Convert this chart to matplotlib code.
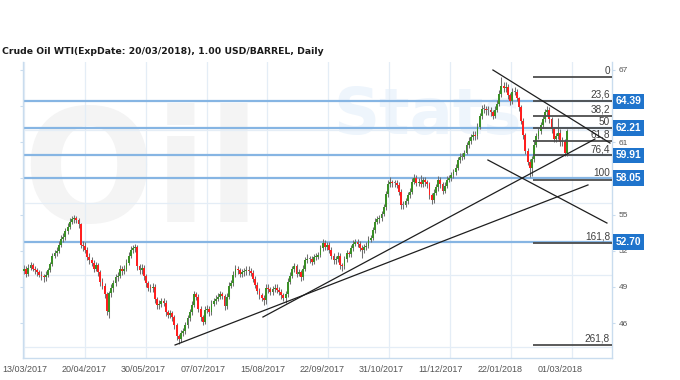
import matplotlib
matplotlib.use("Agg")
import matplotlib.pyplot as plt
from matplotlib.transforms import blended_transform_factory
import numpy as np

# ---------------- data ----------------
title = "Crude Oil WTI(ExpDate: 20/03/2018), 1.00 USD/BARREL, Daily"

closes = [
    50.5, 50.1, 50.6, 50.8, 50.5, 50.4, 50.2, 50.0, 49.9, 49.8,
    50.0, 50.4, 50.9, 51.6, 51.8, 52.0, 52.5, 53.0, 53.1, 53.6,
    54.0, 54.4, 54.6, 54.7, 54.55, 54.2, 52.5, 52.4, 52.1, 51.5,
    51.2, 51.0, 50.5, 50.8, 50.2, 49.4, 49.1, 48.4, 47.0, 48.5,
    48.9, 49.3, 49.8, 49.9, 50.5, 50.3, 50.5, 51.0, 51.6, 52.1,
    52.2, 52.3, 50.7, 50.4, 50.6, 49.9, 49.3, 48.95, 48.9, 49.0,
    48.0, 47.5, 47.6, 47.8, 47.7, 46.9, 46.7, 46.8, 46.5, 45.8,
    44.9, 44.7, 45.15, 45.35, 45.8, 46.4, 46.9, 47.5, 48.4, 48.2,
    47.2, 46.5, 46.1, 47.1, 47.2, 46.9, 47.6, 47.85, 48.0, 48.2,
    48.4, 48.25, 47.4, 48.2, 49.1, 49.3, 50.0, 50.45, 50.4, 50.1,
    50.2, 50.3, 50.4, 50.35, 50.15, 49.65, 49.15, 48.7, 48.3, 48.1,
    47.9, 48.9, 48.8, 48.55, 48.85, 48.95, 48.75, 48.55, 48.3, 48.1,
    48.4, 49.4, 49.9, 50.45, 50.7, 50.1, 50.2, 49.8, 50.5, 51.2,
    51.35, 51.35, 51.1, 51.45, 51.5, 51.65, 52.2, 52.65, 52.35, 52.45,
    52.1, 51.6, 51.2, 51.3, 51.6, 50.8, 50.7, 51.3, 51.8, 51.75,
    52.2, 52.6, 52.75, 52.55, 52.25, 52.05, 52.3, 52.4, 52.9, 53.05,
    53.7, 54.4, 54.6, 54.75, 55.05, 55.6, 56.7, 57.55, 57.7, 57.6,
    57.6, 57.45, 56.9, 55.8, 55.8, 56.1, 56.6, 56.9, 57.7, 58.05,
    57.65, 57.7, 57.55, 57.85, 57.7, 57.5, 56.6, 56.2, 56.8, 57.25,
    57.85, 57.5, 57.0, 57.4, 57.9, 58.05, 58.25, 58.55, 58.9, 59.5,
    59.8, 59.8, 60.15, 60.75, 61.1, 61.4, 61.6, 61.5, 62.3, 63.15,
    63.8, 63.8, 63.7, 63.7, 63.5, 63.2, 63.7, 64.2, 65.0, 65.7,
    65.5, 65.6, 64.9, 64.4, 65.2, 65.2, 64.65, 63.9, 62.8, 61.6,
    60.3, 59.4, 58.9, 59.6, 60.8, 61.5, 61.9, 62.4, 62.9, 63.55,
    63.7, 62.9, 62.1, 61.25, 61.5, 61.8, 61.0, 61.1, 60.1, 61.9,
]

opens = [
    50.3, 50.5, 50.1, 50.6, 50.8, 50.5, 50.4, 50.2, 50.0, 49.9,
    49.8, 50.0, 50.4, 50.9, 51.6, 51.8, 52.0, 52.5, 53.0, 53.1,
    53.6, 54.0, 54.4, 54.6, 54.7, 54.55, 54.2, 52.5, 52.4, 52.1,
    51.5, 51.2, 51.0, 50.5, 50.8, 50.2, 49.4, 49.1, 48.4, 46.9,
    48.5, 48.9, 49.3, 49.8, 49.9, 50.5, 50.3, 50.5, 51.0, 51.6,
    52.1, 52.2, 52.3, 50.7, 50.4, 50.6, 49.9, 49.3, 48.95, 48.9,
    49.0, 48.0, 47.5, 47.6, 47.8, 47.7, 46.9, 46.7, 46.8, 46.5,
    45.8, 44.9, 44.7, 45.15, 45.35, 45.8, 46.4, 46.9, 47.5, 48.4,
    48.2, 47.2, 46.5, 46.1, 47.1, 47.2, 46.9, 47.6, 47.85, 48.0,
    48.2, 48.4, 48.25, 47.4, 48.2, 49.1, 49.3, 50.0, 50.45, 50.4,
    50.1, 50.2, 50.3, 50.4, 50.35, 50.15, 49.65, 49.15, 48.7, 48.3,
    48.1, 47.9, 48.9, 48.8, 48.55, 48.85, 48.95, 48.75, 48.55, 48.3,
    48.1, 48.4, 49.4, 49.9, 50.45, 50.7, 50.1, 50.2, 49.8, 50.5,
    51.2, 51.35, 51.35, 51.1, 51.45, 51.5, 51.65, 52.2, 52.65, 52.35,
    52.45, 52.1, 51.6, 51.2, 51.3, 51.6, 50.8, 50.7, 51.3, 51.8,
    51.75, 52.2, 52.6, 52.75, 52.55, 52.25, 52.05, 52.3, 52.4, 52.9,
    53.05, 53.7, 54.4, 54.6, 54.75, 55.05, 55.6, 56.7, 57.55, 57.7,
    57.6, 57.6, 57.45, 56.9, 55.8, 55.8, 56.1, 56.6, 56.9, 57.7,
    58.05, 57.65, 57.7, 57.55, 57.85, 57.7, 57.5, 56.6, 56.2, 56.8,
    57.25, 57.85, 57.5, 57.0, 57.4, 57.9, 58.05, 58.25, 58.55, 58.9,
    59.5, 59.8, 59.8, 60.15, 60.75, 61.1, 61.4, 61.6, 61.5, 62.3,
    63.15, 63.8, 63.8, 63.7, 63.7, 63.5, 63.2, 63.7, 64.2, 65.0,
    65.7, 65.5, 65.6, 64.9, 64.4, 65.2, 65.2, 64.65, 63.9, 62.8,
    61.6, 60.3, 59.4, 58.9, 59.6, 60.8, 61.5, 61.9, 62.4, 62.9,
    63.55, 63.7, 62.9, 62.1, 61.25, 61.5, 61.8, 61.0, 61.1, 60.1,
]

highs = [
    50.8, 50.7, 50.9, 51.1, 51.0, 50.7, 50.6, 50.4, 50.3, 50.1,
    50.3, 50.6, 51.1, 51.8, 52.1, 52.3, 52.8, 53.3, 53.5, 53.9,
    54.3, 54.7, 54.9, 55.0, 54.9, 54.7, 54.3, 52.8, 52.7, 52.3,
    51.8, 51.5, 51.2, 51.1, 51.0, 50.4, 49.7, 49.3, 48.6, 48.7,
    49.2, 49.6, 50.1, 50.2, 50.8, 50.7, 50.8, 51.3, 51.9, 52.4,
    52.5, 52.6, 52.5, 50.9, 50.9, 50.8, 50.1, 49.5, 49.2, 49.3,
    49.2, 48.2, 47.9, 48.1, 48.1, 47.9, 47.1, 47.1, 47.0, 46.7,
    46.0, 45.1, 45.4, 45.6, 46.1, 46.7, 47.2, 47.8, 48.7, 48.6,
    48.4, 47.4, 46.7, 47.4, 47.5, 47.4, 47.9, 48.1, 48.3, 48.5,
    48.7, 48.6, 48.4, 48.5, 49.4, 49.6, 50.3, 50.8, 50.7, 50.6,
    50.5, 50.6, 50.7, 50.7, 50.6, 50.4, 49.9, 49.4, 48.9, 48.5,
    48.3, 49.2, 49.2, 49.0, 49.1, 49.2, 49.2, 49.0, 48.8, 48.5,
    48.7, 49.7, 50.2, 50.7, 51.0, 50.9, 50.5, 50.4, 50.8, 51.5,
    51.7, 51.6, 51.6, 51.7, 51.8, 51.9, 52.5, 53.0, 52.9, 52.7,
    52.7, 52.3, 51.8, 51.6, 51.9, 51.8, 51.0, 51.6, 52.1, 52.0,
    52.5, 52.9, 53.0, 53.0, 52.8, 52.5, 52.6, 52.7, 53.2, 53.3,
    54.0, 54.7, 54.9, 55.0, 55.3, 55.9, 57.0, 57.9, 58.1, 57.9,
    57.9, 57.9, 57.7, 57.1, 56.1, 56.4, 56.9, 57.2, 58.0, 58.4,
    58.3, 58.0, 58.3, 58.1, 58.1, 57.9, 57.7, 56.8, 57.1, 57.5,
    58.2, 58.1, 57.7, 57.7, 58.2, 58.3, 58.5, 58.8, 59.2, 59.8,
    60.1, 60.1, 60.4, 61.0, 61.4, 61.7, 61.9, 61.9, 62.6, 63.4,
    64.1, 64.2, 64.0, 64.0, 63.9, 63.7, 64.0, 64.5, 65.3, 66.4,
    66.0, 66.0, 65.8, 65.1, 65.5, 65.6, 65.4, 64.8, 64.1, 63.0,
    61.8, 60.5, 59.6, 59.9, 61.1, 61.8, 62.2, 62.7, 63.2, 63.8,
    64.0, 63.9, 63.1, 62.3, 61.8, 63.0, 62.1, 61.4, 61.3, 62.1,
]

lows = [
    50.1, 49.8, 49.9, 50.4, 50.3, 50.1, 49.9, 49.8, 49.6, 49.4,
    49.5, 49.8, 50.2, 50.7, 51.4, 51.6, 51.8, 52.3, 52.7, 52.9,
    53.4, 53.8, 54.2, 54.3, 54.3, 53.9, 52.2, 52.0, 51.8, 51.2,
    50.9, 50.7, 50.2, 50.3, 49.9, 49.1, 48.8, 48.1, 46.7, 46.4,
    48.2, 48.6, 49.1, 49.5, 49.7, 50.0, 50.1, 50.3, 50.8, 51.4,
    51.8, 51.9, 50.4, 50.1, 50.1, 49.6, 49.0, 48.7, 48.6, 48.6,
    47.7, 47.2, 47.2, 47.3, 47.4, 46.6, 46.4, 46.4, 46.2, 45.5,
    44.6, 44.3, 44.4, 44.9, 45.1, 45.6, 46.2, 46.7, 47.3, 47.9,
    46.9, 46.2, 45.8, 45.9, 46.8, 46.6, 46.7, 47.4, 47.6, 47.8,
    48.0, 48.0, 47.1, 47.2, 48.0, 48.9, 49.1, 49.8, 50.1, 49.8,
    49.8, 49.9, 50.0, 50.0, 49.9, 49.4, 48.9, 48.4, 48.0, 47.8,
    47.5, 47.6, 48.5, 48.3, 48.3, 48.6, 48.5, 48.3, 48.0, 47.8,
    47.7, 48.2, 49.2, 49.7, 50.2, 49.8, 49.9, 49.5, 49.6, 50.3,
    51.0, 51.0, 50.8, 50.9, 51.2, 51.3, 51.5, 52.0, 52.1, 52.1,
    51.8, 51.3, 50.9, 50.9, 51.1, 50.5, 50.3, 50.5, 51.1, 51.5,
    51.5, 52.0, 52.4, 52.3, 52.0, 51.4, 51.8, 52.1, 52.2, 52.7,
    52.9, 53.5, 54.2, 54.3, 54.5, 54.9, 55.4, 56.5, 57.3, 57.3,
    57.3, 57.2, 56.6, 55.5, 55.5, 55.6, 55.9, 56.4, 56.7, 57.5,
    57.4, 57.4, 57.3, 57.3, 57.4, 57.2, 56.3, 55.9, 56.0, 56.6,
    57.0, 57.2, 56.7, 56.8, 57.2, 57.7, 57.8, 58.0, 58.3, 58.7,
    59.3, 59.5, 59.6, 60.0, 60.5, 60.9, 61.2, 61.2, 61.3, 62.1,
    62.9, 63.4, 63.3, 63.3, 63.2, 62.9, 63.0, 63.5, 64.0, 64.8,
    65.2, 65.2, 64.6, 64.1, 64.2, 64.9, 64.4, 63.6, 62.5, 61.3,
    60.0, 59.1, 58.1, 58.2, 59.4, 60.6, 61.3, 61.7, 62.2, 62.7,
    63.3, 62.6, 61.8, 61.0, 61.0, 61.3, 60.7, 60.7, 59.9, 59.9,
]

date_labels = ["13/03/2017", "20/04/2017", "30/05/2017", "07/07/2017", "15/08/2017",
               "22/09/2017", "31/10/2017", "11/12/2017", "22/01/2018", "01/03/2018"]

# price levels shown in blue boxes on the right
marked_levels = [64.39, 62.21, 59.91, 58.05, 52.70]

# Fibonacci retracement
fib_high = 66.40
fib_low = 57.90
fib_ratios = [0.0, 23.6, 38.2, 50.0, 61.8, 76.4, 100.0, 161.8, 261.8]
fib_labels = ["0", "23,6", "38,2", "50", "61,8", "76,4", "100", "161,8", "261,8"]

# trend lines (x0 = candle index, y0 = price, x1, y1)
trend_lines = [
    (69.3, 44.18, 258.7, 57.46),
    (109.6, 46.50, 261.9, 61.27),
    (215.1, 67.00, 268.8, 60.94),
    (212.8, 59.53, 267.4, 54.30),
]

ytick_values = [46, 49, 52, 55, 58, 61, 64, 67]
ytick_texts = ["46", "49", "52", "55", "", "61", "", "67"]   # 58 and 64 sit under the boxes
hgrid_values = [44, 50, 56, 62]

# ---------------- layout helpers (pixel geometry) ----------------
W, H = 680, 380
PL, PR, PT, PB = 22.5, 612.0, 62.0, 358.0
X0, DX = 24.0, 2.18          # pixel of first candle, pixels per candle
Y67, DY = 70.0, 12.05        # pixel of price 67, pixels per 1.0 USD


def px_to_idx(px):
    return (px - X0) / DX


def py_to_price(py):
    return 67.0 - (py - Y67) / DY


label_px = [24.4 + 59.5 * k for k in range(len(date_labels))]
vgrid_px = [23.8 + 60.9 * k for k in range(len(date_labels))]

fig = plt.figure(figsize=(W / 100, H / 100), dpi=100)
fig.patch.set_facecolor("white")
ax = fig.add_axes([PL / W, 1 - PB / H, (PR - PL) / W, (PB - PT) / H])
ax.set_xlim(px_to_idx(PL), px_to_idx(PR))
ax.set_ylim(py_to_price(PB), py_to_price(PT))

# watermark (very faint)
ax.text(px_to_idx(22), py_to_price(222), "Oil", fontsize=112, fontweight="bold",
        color="#f4f4f4", family="DejaVu Sans", ha="left", va="baseline", zorder=0.2)
ax.text(px_to_idx(333), py_to_price(134), "Stats", fontsize=46, fontweight="bold",
        color="#eef5fc", family="DejaVu Sans", ha="left", va="baseline", zorder=0.2)

# grid
for p in hgrid_values:
    ax.axhline(p, color="#e4edf6", lw=0.9, zorder=0.5)
for px in vgrid_px:
    ax.axvline(px_to_idx(px), color="#e4edf6", lw=0.9, zorder=0.5)

# blue marked levels
for lv in marked_levels:
    ax.axhline(lv, color="#86b5e3", lw=1.6, zorder=1)

# candles
idx = np.arange(len(closes))
o = np.array(opens); c = np.array(closes); hi = np.array(highs); lo = np.array(lows)
ax.vlines(idx, lo, hi, color="#707070", lw=0.75, zorder=2)
colors = []
for oo, cc in zip(o, c):
    if cc > oo:
        colors.append("#3a8f26")
    elif cc < oo:
        colors.append("#ff1f1f")
    else:
        colors.append("#808080")
bottoms = np.minimum(o, c)
heights = np.maximum(np.abs(c - o), 0.08)
ax.bar(idx, heights, bottom=bottoms, width=0.85, color=colors, linewidth=0, zorder=3)

# fibonacci levels
fib_x0 = px_to_idx(533)
fib_xl = px_to_idx(610)
for r, lab in zip(fib_ratios, fib_labels):
    lv = fib_high - r / 100.0 * (fib_high - fib_low)
    ax.plot([fib_x0, px_to_idx(PR)], [lv, lv], color="#4d4d4d", lw=1.3, zorder=4,
            solid_capstyle="butt")
    ax.text(fib_xl, lv + 0.12, lab, ha="right", va="bottom", fontsize=7.2,
            family="Liberation Sans", color="#404040", zorder=5)

# trend lines
for x0, y0, x1, y1 in trend_lines:
    ax.plot([x0, x1], [y0, y1], color="#1e1e1e", lw=0.9, zorder=5)

# axes styling
ax.spines["top"].set_visible(False)
for s in ["left", "right", "bottom"]:
    ax.spines[s].set_color("#c9dcee")
    ax.spines[s].set_linewidth(1.0)

ax.set_yticks(ytick_values)
ax.set_yticklabels(ytick_texts)
ax.tick_params(axis="y", left=True, right=True, labelleft=False, labelright=True,
               length=2.5, width=0.8, color="#c9dcee", labelsize=6.0, labelcolor="#555555",
               pad=2.5)
for t in ax.get_yticklabels():
    t.set_family("Liberation Sans")

ax.set_xticks([px_to_idx(p) for p in label_px])
ax.set_xticklabels(date_labels)
ax.tick_params(axis="x", length=0, labelsize=6.5, labelcolor="#555555", pad=5)
for t in ax.get_xticklabels():
    t.set_family("Liberation Sans")

# blue price boxes
trans = blended_transform_factory(ax.transAxes, ax.transData)
for lv in marked_levels:
    ax.text((615.5 - PL) / (PR - PL), lv, f"{lv:.2f}", transform=trans, ha="left", va="center",
            fontsize=7.4, fontweight="bold", family="Liberation Sans", color="white",
            bbox=dict(boxstyle="square,pad=0.28", fc="#1f74cc", ec="none"),
            zorder=10, clip_on=False)

# title
ttl = fig.text(2 / W, 1 - 51 / H, title, fontsize=8, fontweight="bold", family="DejaVu Sans",
               ha="left", va="center", color="#1a1a1a")
fig.canvas.draw()
w = ttl.get_window_extent().width
ttl.set_fontsize(8 * 321.0 / w)

fig.savefig("out.png", dpi=100, facecolor="white")
